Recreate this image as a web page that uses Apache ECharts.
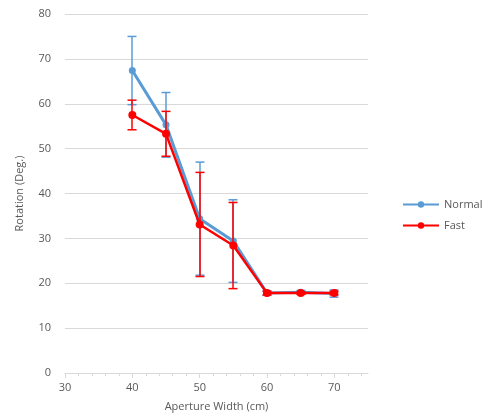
<!DOCTYPE html>
<html>
<head>
<meta charset="utf-8">
<script src="https://cdn.jsdelivr.net/npm/echarts@6/dist/echarts.min.js"></script>
<style>
  html, body { margin: 0; padding: 0; background: #fff; }
  #chart { width: 488px; height: 417px; }
</style>
</head>
<body>
<div id="chart"></div>
<script>
// aperture widths (cm)
const widths = [40, 45, 50, 55, 60, 65, 70];
// mean rotation (deg.)
const normalMean = [67.4, 55.3, 34.4, 29.4, 17.8, 18.0, 17.7];
const fastMean = [57.5, 53.3, 33.1, 28.4, 17.8, 17.8, 17.8];
// error bar half-lengths
const normalErr = [7.6, 7.2, 12.6, 9.2, 0.5, 0.4, 0.8];
const fastErr = [3.3, 5.0, 11.6, 9.6, 0.4, 0.3, 0.4];
// tick labels
const xMajorTicks = [30, 40, 50, 60, 70];
const xMinorTicks = [32, 34, 36, 38, 42, 44, 46, 48, 52, 54, 56, 58, 62, 64, 66, 68, 72, 74];

const chart = echarts.init(document.getElementById("chart"));

const blue = "#5b9bd5";
const red = "#ff0000";
const labelColor = "#595959";
const font = "Open Sans";

const pairs = (ys) => widths.map((x, i) => [x, ys[i]]);
const bars = (ys, es) => widths.map((x, i) => [x, ys[i] - es[i], ys[i] + es[i]]);

// error bar drawn from the axis scales
const errorBar = (color, width) => (params, api) => {
  const lo = api.coord([api.value(0), api.value(1)]);
  const hi = api.coord([api.value(0), api.value(2)]);
  const x = Math.round(lo[0]);
  const half = 4.5;
  const style = { stroke: color, lineWidth: width };
  return {
    type: "group",
    children: [
      { type: "line", shape: { x1: x, y1: lo[1], x2: x, y2: hi[1] }, style },
      { type: "line", shape: { x1: x - half, y1: lo[1], x2: x + half, y2: lo[1] }, style },
      { type: "line", shape: { x1: x - half, y1: hi[1], x2: x + half, y2: hi[1] }, style },
    ],
  };
};

const option = {
  animation: false,
  textStyle: { fontFamily: font },
  grid: { left: 65, right: 120, top: 14, bottom: 43 },
  legend: {
    data: ["Normal", "Fast"],
    orient: "vertical",
    left: 397,
    top: 194,
    itemWidth: 36,
    itemHeight: 8,
    itemGap: 10,
    textStyle: { color: labelColor, fontSize: 11, fontFamily: font },
  },
  xAxis: [
    {
      type: "value",
      min: 30,
      max: 75,
      name: "Aperture Width (cm)",
      nameLocation: "middle",
      nameGap: 28,
      nameTextStyle: { color: labelColor, fontSize: 11, fontFamily: font },
      axisLine: { lineStyle: { color: "#d9d9d9", width: 1 } },
      axisTick: { customValues: xMajorTicks, length: 5, lineStyle: { color: "#d9d9d9" } },
      axisLabel: { customValues: xMajorTicks, color: labelColor, fontSize: 11, margin: 9 },
      splitLine: { show: false },
    },
    {
      type: "value",
      min: 30,
      max: 75,
      position: "bottom",
      axisLine: { show: false },
      axisTick: { customValues: xMinorTicks, length: 3, lineStyle: { color: "#d9d9d9" } },
      axisLabel: { show: false },
      splitLine: { show: false },
    },
  ],
  yAxis: {
    type: "value",
    min: 0,
    max: 80,
    interval: 10,
    name: "Rotation (Deg.)",
    nameLocation: "middle",
    nameGap: 40,
    nameTextStyle: { color: labelColor, fontSize: 11, fontFamily: font },
    axisLine: { show: false },
    axisTick: { show: false },
    axisLabel: { color: labelColor, fontSize: 11, margin: 14 },
    splitLine: { lineStyle: { color: "#d9d9d9", width: 1 } },
  },
  series: [
    {
      name: "Normal",
      type: "line",
      data: pairs(normalMean),
      color: blue,
      symbol: "circle",
      symbolSize: 7,
      lineStyle: { width: 3, color: blue },
      itemStyle: { color: blue },
      z: 2,
    },
    {
      name: "NormalErr",
      type: "custom",
      data: bars(normalMean, normalErr),
      renderItem: errorBar(blue, 1.5),
      encode: { x: 0, y: [1, 2] },
      z: 3,
    },
    {
      name: "FastErr",
      type: "custom",
      data: bars(fastMean, fastErr),
      renderItem: errorBar(red, 1.5),
      encode: { x: 0, y: [1, 2] },
      z: 4,
    },
    {
      name: "Fast",
      type: "line",
      data: pairs(fastMean),
      color: red,
      symbol: "circle",
      symbolSize: 8,
      lineStyle: { width: 2.5, color: red },
      itemStyle: { color: red },
      z: 5,
    },
  ],
};

chart.setOption(option);
</script>
</body>
</html>
